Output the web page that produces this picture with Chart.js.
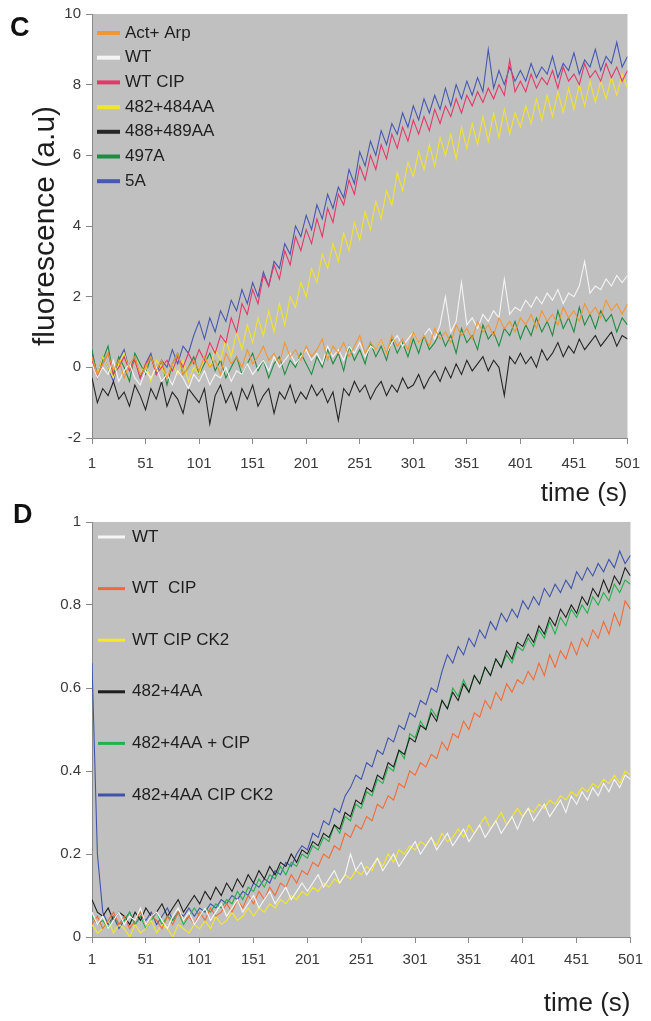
<!DOCTYPE html>
<html>
<head>
<meta charset="utf-8">
<script src="https://cdn.jsdelivr.net/npm/chart.js@4.4.1/dist/chart.umd.min.js"></script>
<style>
  body { margin: 0; background: #fff; width: 651px; height: 1021px; position: relative; overflow: hidden;
         font-family: "Liberation Sans", Arial, sans-serif; }
  .panel { position: absolute; left: 0; }
  .letter { position: absolute; font-weight: bold; font-size: 27px; line-height: 1; color: #111; }
</style>
</head>
<body>
<div class="panel" style="top:0"><canvas id="chartC" width="651" height="510"></canvas></div>
<div class="panel" style="top:500px"><canvas id="chartD" width="651" height="521"></canvas></div>
<div class="letter" style="left:10px;top:14px">C</div>
<div class="letter" style="left:13px;top:501px">D</div>
<script>
// time axis (s), sampled every 5 s
const timeSec = [
  1, 6, 11, 16, 21, 26, 31, 36, 41, 46,
  51, 56, 61, 66, 71, 76, 81, 86, 91, 96,
  101, 106, 111, 116, 121, 126, 131, 136, 141, 146,
  151, 156, 161, 166, 171, 176, 181, 186, 191, 196,
  201, 206, 211, 216, 221, 226, 231, 236, 241, 246,
  251, 256, 261, 266, 271, 276, 281, 286, 291, 296,
  301, 306, 311, 316, 321, 326, 331, 336, 341, 346,
  351, 356, 361, 366, 371, 376, 381, 386, 391, 396,
  401, 406, 411, 416, 421, 426, 431, 436, 441, 446,
  451, 456, 461, 466, 471, 476, 481, 486, 491, 496,
  501
];
const xTicks = [1, 51, 101, 151, 201, 251, 301, 351, 401, 451, 501];

// panel C
const yTicksC = [-2, 0, 2, 4, 6, 8, 10];
const labelsC = ["Act+ Arp", "WT", "WT CIP", "482+484AA", "488+489AA", "497A", "5A"];
const colorsC = ["#f2962f", "#f4f4f4", "#e5386a", "#f2e42a", "#262626", "#1f8c43", "#4658b0"];

const cActArp = [
  0.3, -0.2, 0.1, 0.4, -0.1, 0.2, -0.3, 0.1, 0.3, -0.2,
  0.0, 0.3, -0.1, 0.2, -0.3, 0.1, 0.4, -0.2, 0.0, 0.2,
  -0.1, 0.3, 0.0, 0.2, -0.2, 0.4, 0.1, 0.3, 0.0, 0.5,
  0.1, 0.3, 0.6, 0.2, 0.4, 0.1, 0.7, 0.3, 0.5, 0.2,
  0.6, 0.3, 0.5, 0.8, 0.2, 0.6, 0.4, 0.7, 0.3, 0.6,
  0.9, 0.4, 0.7, 0.5, 0.8, 0.4, 0.9, 0.6, 0.8, 0.5,
  1.0, 0.7, 0.9, 0.6, 1.1, 0.8, 1.0, 0.7, 1.2, 0.9,
  1.1, 0.8, 1.3, 1.0, 1.2, 0.9, 1.4, 1.1, 1.3, 1.0,
  1.4, 1.2, 1.5, 1.1, 1.6, 1.3, 1.5, 1.2, 1.7, 1.4,
  1.6, 1.3, 1.8, 1.5, 1.7, 1.4, 1.9, 1.6, 1.8, 1.5,
  1.8
];
const cWT = [
  0.1, -0.3, 0.0, -0.2, 0.2, -0.4, -0.1, 0.1, -0.3, -0.5,
  -0.1, -0.3, 0.0, -0.4, -0.2, -0.5, -0.1, -0.3, -0.6, -0.2,
  -0.4, -0.1, -0.5, -0.2, -0.3, 0.0, -0.4, -0.1, -0.2, 0.1,
  -0.2, 0.0, 0.2, -0.1, 0.3, 0.0, 0.2, 0.4, 0.1, 0.3,
  0.5, 0.2, 0.4, 0.1, 0.6, 0.3, 0.5, 0.2, 0.6, 0.4,
  0.7, 0.3, 0.6, 0.5, 0.8, 0.4, 0.7, 0.9, 0.6, 0.8,
  1.0, 0.7, 0.9, 1.1, 0.8, 1.2, 2.0, 1.0, 1.3, 2.4,
  1.2, 1.4, 1.1, 1.5, 1.3, 1.6, 1.4, 2.5, 1.5, 1.7,
  1.6, 1.9, 1.7, 2.0, 1.8, 2.1, 1.9, 2.2, 1.8, 2.1,
  2.0, 2.3, 3.0, 2.1, 2.3, 2.2, 2.5, 2.3, 2.6, 2.4,
  2.6
];
const cWTCIP = [
  0.2, -0.3, 0.1, 0.4, -0.2, 0.0, 0.3, -0.1, 0.2, -0.3,
  0.1, 0.3, -0.2, 0.0, 0.2, -0.1, 0.3, 0.0, 0.4, 0.1,
  0.5, 0.2, 0.7, 0.4, 0.9, 0.7, 1.4, 1.0, 1.8, 1.5,
  2.2, 1.8, 2.6, 2.3, 2.9, 2.5, 3.3, 2.9, 3.7, 3.3,
  3.9, 3.5, 4.2, 3.7, 4.5, 4.1, 4.9, 4.6, 5.3, 4.9,
  5.7, 5.3, 6.0, 5.6, 6.3, 5.9, 6.6, 6.2, 6.8, 6.4,
  7.0, 6.6, 7.1, 6.7, 7.3, 6.9, 7.4, 7.1, 7.6, 7.2,
  7.7, 7.4, 7.8, 7.5, 7.9, 7.6, 8.0, 7.7, 8.7, 7.8,
  8.1, 7.8, 8.3, 7.9, 8.2, 8.0, 8.4, 7.9, 8.5, 8.1,
  8.3, 8.0, 8.6, 8.2, 8.4, 8.1, 8.6, 8.2, 8.5, 8.1,
  8.4
];
const c482_484AA = [
  0.2, -0.2, 0.3, 0.0, -0.3, 0.1, 0.4, -0.1, 0.2, -0.2,
  0.1, -0.4, 0.2, 0.0, -0.3, 0.1, -0.2, 0.2, -0.4, 0.0,
  -0.2, 0.3, 0.0, 0.5, 0.2, 0.8, 0.3, 1.0, 0.5, 1.2,
  0.7, 1.4, 0.9, 1.6, 1.0, 1.8, 1.2, 2.0, 1.7, 2.4,
  2.0, 2.8, 2.4, 3.2, 2.8, 3.5, 3.0, 3.8, 3.3, 4.1,
  3.6, 4.4, 3.9, 4.7, 4.2, 5.0, 4.6, 5.5, 5.0, 5.8,
  5.4, 6.1, 5.6, 6.3, 5.7, 6.5, 6.0, 6.6, 5.9, 6.8,
  6.2, 6.9, 6.3, 7.1, 6.4, 7.2, 6.5, 7.3, 6.6, 7.2,
  6.8, 7.4, 6.9, 7.6, 7.0, 7.7, 7.1, 7.8, 7.2, 7.9,
  7.3, 8.0, 7.4, 8.1, 7.5, 8.1, 7.6, 8.2, 7.7, 8.3,
  7.9
];
const c488_489AA = [
  -0.3, -1.0, -0.6, -0.8, -0.4, -0.9, -0.7, -1.1, -0.5, -0.8,
  -1.2, -0.6, -0.9, -0.4, -1.1, -0.7, -0.9, -1.3, -0.6, -0.8,
  -1.0, -0.6, -1.6, -0.8, -0.5, -1.0, -0.7, -1.2, -0.6, -0.9,
  -0.5, -1.1, -0.8, -0.6, -1.3, -0.7, -0.9, -0.5, -1.0, -0.7,
  -0.9, -0.5, -0.8, -0.6, -1.0, -0.7, -1.5, -0.6, -0.8, -0.4,
  -0.7, -0.5, -0.9, -0.6, -0.4, -0.8, -0.5, -0.7, -0.3, -0.6,
  -0.5, -0.2, -0.6, -0.3, -0.1, -0.4, 0.0, -0.3, 0.1, -0.2,
  0.2, -0.1, 0.1, 0.3, -0.1, 0.2, 0.0, -0.8, 0.3, 0.1,
  0.4, 0.1, 0.3, 0.0, 0.5, 0.2, 0.4, 0.7, 0.3, 0.6,
  0.4, 0.8, 0.5, 0.7, 0.9, 0.6, 0.8, 1.0, 0.6, 0.9,
  0.8
];
const c497A = [
  0.5, -0.3, 0.2, 0.6, -0.2, 0.3, 0.0, -0.4, 0.4, 0.1,
  -0.2, 0.3, -0.1, 0.2, -0.5, 0.1, 0.4, -0.2, 0.0, 0.3,
  -0.2, 0.1, 0.4, -0.1, 0.2, -0.3, 0.0, 0.3, -0.2, 0.1,
  0.4, -0.1, 0.2, -0.3, 0.1, 0.3, -0.2, 0.2, 0.0, 0.4,
  0.1, -0.2, 0.3, 0.0, 0.5, 0.1, 0.4, -0.1, 0.6, 0.2,
  0.5, 0.1, 0.7, 0.3, 0.6, 0.2, 0.8, 0.4, 0.7, 0.3,
  0.8, 0.4, 0.9, 0.5, 0.7, 1.0, 0.6, 0.9, 0.4, 1.1,
  0.7, 0.9, 0.5, 1.2, 0.8, 1.0, 0.6, 1.1, 0.9, 1.3,
  0.8, 1.2, 0.9, 1.4, 1.0, 1.3, 0.9, 1.6, 1.1, 1.4,
  1.0, 1.7, 1.2, 1.5, 1.1, 1.6, 1.3, 1.5, 1.0, 1.4,
  1.2
];
const c5A = [
  0.4, -0.2, 0.3, 0.0, -0.4, 0.2, 0.5, -0.1, 0.3, -0.3,
  0.1, 0.4, -0.2, 0.2, 0.0, 0.5, 0.1, 0.6, 0.4, 0.9,
  1.3, 0.8, 1.4, 1.0, 1.6, 1.3, 1.9, 1.6, 2.2, 1.8,
  2.4, 2.0, 2.7, 2.3, 3.0, 2.8, 3.5, 3.2, 4.0, 3.7,
  4.3, 3.9, 4.6, 4.2, 4.9, 4.5, 5.1, 4.8, 5.6, 5.2,
  6.1, 5.7, 6.4, 6.0, 6.7, 6.3, 6.9, 6.6, 7.2, 6.8,
  7.4, 7.0, 7.6, 7.2, 7.7, 7.3, 7.9, 7.4, 8.0, 7.6,
  8.1, 7.7, 8.2, 7.8, 9.0, 7.9, 8.4, 8.0, 8.5, 8.1,
  8.4, 8.1, 8.6, 8.2, 8.5, 8.3, 8.8, 8.2, 8.6, 8.4,
  8.9, 8.3, 8.7, 8.5, 9.0, 8.4, 8.8, 8.6, 9.2, 8.5,
  8.8
];

// panel D
const yTicksD = [0, 0.2, 0.4, 0.6, 0.8, 1];
const labelsD = ["WT", "WT  CIP", "WT CIP CK2", "482+4AA", "482+4AA + CIP", "482+4AA CIP CK2"];
const colorsD = ["#f6f6f6", "#f26a33", "#f6ea20", "#1e1e1e", "#21b24b", "#3e54ab"];

const dWT = [
  0.06, 0.03, 0.05, 0.02, 0.04, 0.06, 0.03, 0.05, 0.04, 0.07,
  0.03, 0.05, 0.06, 0.04, 0.02, 0.05, 0.07, 0.04, 0.06, 0.03,
  0.05, 0.07, 0.04, 0.06, 0.08, 0.05, 0.07, 0.09, 0.06, 0.08,
  0.10, 0.07, 0.09, 0.11, 0.08, 0.10, 0.12, 0.09, 0.11, 0.13,
  0.11, 0.13, 0.15, 0.12, 0.14, 0.16, 0.13, 0.15, 0.20, 0.16,
  0.18, 0.15, 0.17, 0.19, 0.16, 0.18, 0.20, 0.17, 0.19, 0.21,
  0.23, 0.20, 0.22, 0.24, 0.21, 0.23, 0.25, 0.22, 0.24, 0.26,
  0.23, 0.25, 0.27, 0.24, 0.26, 0.28, 0.25, 0.27, 0.29, 0.26,
  0.29, 0.31, 0.28, 0.30, 0.32, 0.29, 0.31, 0.33, 0.30, 0.34,
  0.32, 0.35, 0.33, 0.36, 0.34, 0.37, 0.35, 0.38, 0.36, 0.39,
  0.38
];
const dWTCIP = [
  0.03, 0.05, 0.02, 0.04, 0.06, 0.03, 0.05, 0.02, 0.04, 0.06,
  0.03, 0.05, 0.04, 0.02, 0.05, 0.03, 0.06, 0.04, 0.05, 0.03,
  0.06, 0.04, 0.07, 0.05, 0.06, 0.08, 0.06, 0.09, 0.07, 0.10,
  0.08, 0.11, 0.09, 0.12, 0.10, 0.13, 0.12, 0.15, 0.13, 0.16,
  0.15, 0.18, 0.17, 0.20, 0.19, 0.22, 0.21, 0.25, 0.24, 0.27,
  0.26, 0.29, 0.28, 0.32, 0.31, 0.34, 0.33, 0.37, 0.36, 0.40,
  0.39, 0.42, 0.41, 0.44, 0.43, 0.47, 0.45, 0.49, 0.48, 0.52,
  0.50, 0.54, 0.53, 0.57, 0.55, 0.59, 0.57, 0.61, 0.59, 0.62,
  0.61, 0.64, 0.62, 0.66, 0.63, 0.68, 0.65, 0.69, 0.67, 0.71,
  0.68, 0.72, 0.70, 0.74, 0.72, 0.76, 0.73, 0.78, 0.75, 0.81,
  0.79
];
const dWTCIPCK2 = [
  0.03, 0.01, 0.02, 0.04, 0.01, 0.03, 0.02, 0.00, 0.03, 0.01,
  0.02, 0.04, 0.01, 0.03, 0.02, 0.00, 0.03, 0.02, 0.01, 0.03,
  0.02, 0.04, 0.02, 0.05, 0.03, 0.04, 0.06, 0.04, 0.05, 0.07,
  0.05, 0.07, 0.06, 0.08, 0.07, 0.09, 0.08, 0.10, 0.09, 0.11,
  0.10, 0.12, 0.11, 0.13, 0.12, 0.14, 0.13, 0.15, 0.14, 0.16,
  0.15, 0.17, 0.16, 0.19, 0.17, 0.20, 0.18, 0.21, 0.20, 0.22,
  0.21, 0.23, 0.22, 0.24, 0.22, 0.25, 0.23, 0.24, 0.26, 0.24,
  0.27, 0.25, 0.27, 0.29, 0.26, 0.28, 0.30, 0.27, 0.29, 0.31,
  0.29, 0.31, 0.30, 0.32, 0.31, 0.33, 0.32, 0.34, 0.33, 0.35,
  0.34, 0.36, 0.35, 0.37, 0.36, 0.38, 0.37, 0.39, 0.37, 0.40,
  0.39
];
const d482_4AA = [
  0.09, 0.06, 0.05, 0.07, 0.04, 0.06, 0.05, 0.03, 0.06, 0.04,
  0.07, 0.05, 0.06, 0.08, 0.05, 0.07, 0.09, 0.06, 0.08, 0.10,
  0.08, 0.11, 0.09, 0.12, 0.10, 0.13, 0.11, 0.14, 0.12, 0.15,
  0.13, 0.16, 0.14, 0.17, 0.15, 0.18, 0.17, 0.20, 0.18, 0.21,
  0.20, 0.23, 0.22, 0.25, 0.24, 0.27, 0.26, 0.30, 0.29, 0.33,
  0.32, 0.36, 0.35, 0.39, 0.38, 0.42, 0.41, 0.45, 0.44, 0.48,
  0.47, 0.51, 0.50, 0.54, 0.52, 0.57, 0.55, 0.59, 0.57, 0.61,
  0.59, 0.63, 0.61, 0.65, 0.63, 0.67, 0.65, 0.69, 0.67, 0.71,
  0.70, 0.73, 0.71, 0.75, 0.73, 0.77, 0.75, 0.79, 0.77, 0.80,
  0.78, 0.82, 0.80, 0.84, 0.82, 0.86, 0.83, 0.87, 0.85, 0.89,
  0.87
];
const d482_4AACIP = [
  0.05, 0.03, 0.04, 0.02, 0.05, 0.03, 0.04, 0.06, 0.03, 0.05,
  0.02, 0.04, 0.06, 0.03, 0.05, 0.04, 0.06, 0.03, 0.05, 0.07,
  0.05, 0.07, 0.06, 0.08, 0.07, 0.09, 0.08, 0.11, 0.09, 0.12,
  0.11, 0.14, 0.12, 0.15, 0.14, 0.17, 0.15, 0.18, 0.17, 0.20,
  0.19, 0.22, 0.21, 0.24, 0.23, 0.27, 0.25, 0.29, 0.28, 0.32,
  0.31, 0.35, 0.34, 0.38, 0.37, 0.41, 0.40, 0.45, 0.43, 0.49,
  0.48, 0.52, 0.50, 0.55, 0.53, 0.57, 0.55, 0.60, 0.58, 0.62,
  0.59, 0.63, 0.61, 0.65, 0.63, 0.67, 0.65, 0.68, 0.66, 0.70,
  0.69, 0.72, 0.70, 0.74, 0.72, 0.76, 0.73, 0.77, 0.75, 0.79,
  0.77, 0.80, 0.78, 0.82, 0.80, 0.83, 0.81, 0.85, 0.83, 0.86,
  0.85
];
const d482_4AACIPCK2 = [
  0.66, 0.20, 0.06, 0.03, 0.05, 0.02, 0.04, 0.06, 0.03, 0.05,
  0.04, 0.06, 0.03, 0.05, 0.07, 0.04, 0.06, 0.05, 0.07, 0.05,
  0.07, 0.06, 0.08, 0.07, 0.09, 0.08, 0.10, 0.09, 0.11, 0.10,
  0.13, 0.12, 0.14, 0.13, 0.16, 0.15, 0.18, 0.17, 0.20, 0.22,
  0.21, 0.25, 0.24, 0.28, 0.27, 0.31, 0.30, 0.34, 0.36, 0.39,
  0.38, 0.42, 0.41, 0.45, 0.44, 0.48, 0.47, 0.51, 0.50, 0.54,
  0.53, 0.57, 0.56, 0.60, 0.59, 0.64, 0.68, 0.66, 0.70, 0.68,
  0.72, 0.70, 0.74, 0.72, 0.76, 0.74, 0.78, 0.76, 0.79, 0.77,
  0.81, 0.79, 0.82, 0.80, 0.84, 0.82, 0.85, 0.83, 0.86, 0.84,
  0.88, 0.86, 0.89, 0.87, 0.90, 0.88, 0.91, 0.89, 0.93, 0.90,
  0.92
];

const seriesC = [cActArp, cWT, cWTCIP, c482_484AA, c488_489AA, c497A, c5A];
const seriesD = [dWT, dWTCIP, dWTCIPCK2, d482_4AA, d482_4AACIP, d482_4AACIPCK2];

const FONT = "'Liberation Sans', Arial, sans-serif";
const AXIS_GREY = "#8a8a8a";

// grey plot background
const plotBg = {
  id: "plotBg",
  beforeDraw(chart) {
    const a = chart.chartArea, ctx = chart.ctx;
    ctx.save();
    ctx.fillStyle = "#c0c0c0";
    ctx.fillRect(a.left, a.top, a.right - a.left, a.bottom - a.top);
    ctx.restore();
  }
};

// legend drawn inside the plot, upper left
const innerLegend = {
  id: "innerLegend",
  afterDatasetsDraw(chart, args, opts) {
    const a = chart.chartArea, ctx = chart.ctx;
    ctx.save();
    ctx.font = opts.font;
    ctx.textBaseline = "middle";
    ctx.textAlign = "left";
    chart.data.datasets.forEach((ds, i) => {
      const y = a.top + opts.top + i * opts.gap;
      ctx.strokeStyle = ds.borderColor;
      ctx.lineWidth = opts.lineWidth;
      ctx.beginPath();
      ctx.moveTo(a.left + opts.x0, y);
      ctx.lineTo(a.left + opts.x1, y);
      ctx.stroke();
      ctx.fillStyle = "#1e1e1e";
      ctx.fillText(ds.label, a.left + opts.textX, y);
    });
    ctx.restore();
  }
};

function makeDatasets(labels, colors, series) {
  return labels.map((lab, k) => ({
    label: lab,
    data: timeSec.map((t, i) => ({ x: t, y: series[k][i] })),
    borderColor: colors[k],
    borderWidth: 1.1,
    pointRadius: 0,
    tension: 0,
    fill: false
  }));
}

function makeChart(id, cfg) {
  return new Chart(document.getElementById(id), {
    type: "line",
    data: { datasets: makeDatasets(cfg.labels, cfg.colors, cfg.series) },
    plugins: [plotBg, innerLegend],
    options: {
      responsive: false,
      animation: false,
      layout: { padding: cfg.padding },
      plugins: {
        legend: { display: false },
        tooltip: { enabled: false },
        innerLegend: cfg.legend
      },
      scales: {
        x: {
          type: "linear",
          min: 1,
          max: 501,
          afterBuildTicks: (s) => { s.ticks = xTicks.map(v => ({ value: v })); },
          afterFit: (s) => { s.height = cfg.xHeight; },
          grid: { drawOnChartArea: false, tickLength: 6, color: AXIS_GREY },
          border: { color: AXIS_GREY },
          ticks: { color: "#3a3a3a", font: { family: FONT, size: 15 }, padding: cfg.xTickPad, maxRotation: 0 },
          title: {
            display: true, text: "time (s)", align: "end", color: "#1e1e1e",
            font: { family: FONT, size: 26 }, padding: { top: 0, bottom: cfg.xTitlePad }
          }
        },
        y: {
          min: cfg.yTicks[0],
          max: cfg.yTicks[cfg.yTicks.length - 1],
          afterBuildTicks: (s) => { s.ticks = cfg.yTicks.map(v => ({ value: v })); },
          afterFit: (s) => { s.width = 92; },
          grid: { drawOnChartArea: false, tickLength: 6, color: AXIS_GREY },
          border: { color: AXIS_GREY },
          ticks: { color: "#3a3a3a", font: { family: FONT, size: 15 }, padding: 5,
                   callback: (v) => String(v) },
          title: cfg.yTitle
        }
      }
    }
  });
}

makeChart("chartC", {
  labels: labelsC, colors: colorsC, series: seriesC,
  yTicks: yTicksC,
  padding: { top: 10, right: 23, left: 0, bottom: 0 },
  xHeight: 72, xTickPad: 11, xTitlePad: 1,
  yTitle: { display: true, text: "fluorescence (a.u)", color: "#1e1e1e",
            font: { family: FONT, size: 30 }, padding: { top: 28, bottom: 0 } },
  legend: { font: "17px " + FONT, top: 19, gap: 24.7, x0: 5, x1: 28, textX: 33, lineWidth: 4 }
});

makeChart("chartD", {
  labels: labelsD, colors: colorsD, series: seriesD,
  yTicks: yTicksD,
  padding: { top: 22, right: 19, left: 0, bottom: 0 },
  xHeight: 84, xTickPad: 8, xTitlePad: 2,
  yTitle: { display: false },
  legend: { font: "17px " + FONT, top: 15, gap: 51.6, x0: 6, x1: 33, textX: 40, lineWidth: 3 }
});
</script>
</body>
</html>
